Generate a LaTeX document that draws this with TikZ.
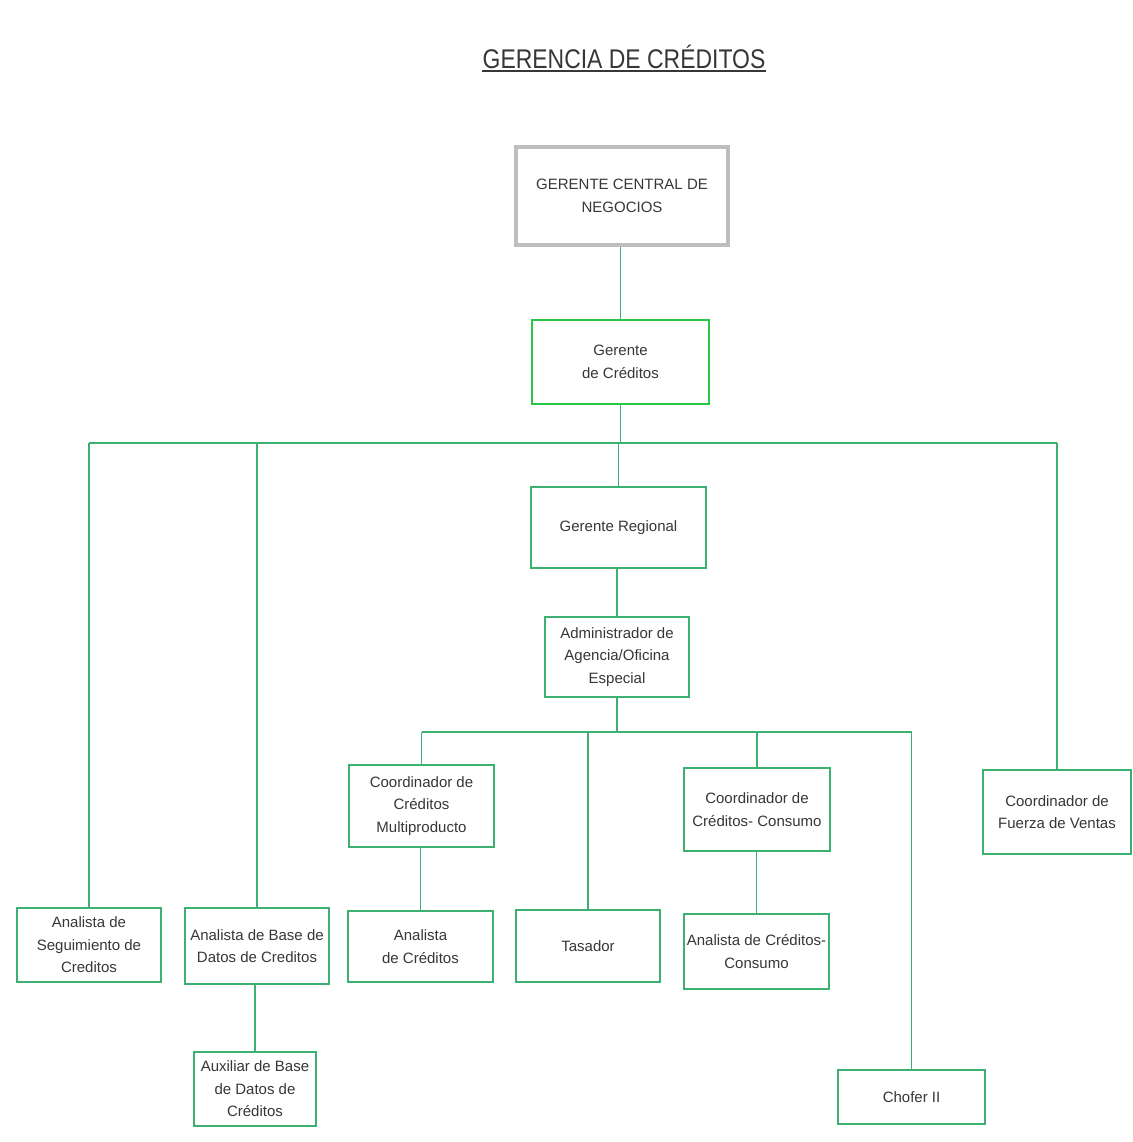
\documentclass[tikz,border=0pt]{standalone}
\usepackage{fontspec}
\setmainfont{Liberation Sans}
\definecolor{lg}{RGB}{60,176,112}
\definecolor{bgr}{RGB}{40,200,70}
\definecolor{tx}{RGB}{55,55,55}
\definecolor{gb}{RGB}{190,190,190}
\begin{document}
\begin{tikzpicture}[x=1pt,y=-1pt,
 box/.style={draw=lg, line width=1.4pt, align=center, inner sep=0pt, text=tx, font=\fontsize{15}{22.5}\selectfont},
 conn/.style={draw=lg, line width=1.4pt}]
\useasboundingbox (0,0) rectangle (1132,1142);
\fill[white] (0,0) rectangle (1132,1142);
\node[text=tx, inner sep=0pt, font=\fontsize{27}{30}\selectfont] (title) at (624,57) {\scalebox{0.85}[1]{GERENCIA DE CRÉDITOS}};
\draw[tx, line width=1.8pt] (title.south west |- 0,71) -- (title.south east |- 0,71);

\node[box, draw=gb, line width=3.5pt, minimum width=212pt, minimum height=98pt] (gcn) at (622,196) {GERENTE CENTRAL DE\\NEGOCIOS};
\node[box, draw=bgr, line width=2.8pt, minimum width=177pt, minimum height=84pt] (gc) at (620.5,362) {Gerente\\de Créditos};
\node[box, minimum width=175pt, minimum height=81pt] (gr) at (618.5,527.5) {Gerente Regional};
\node[box, minimum width=144pt, minimum height=80pt] (adm) at (617,657) {Administrador de\\Agencia/Oficina\\Especial};
\node[box, minimum width=145pt, minimum height=82pt] (cm) at (421.5,806) {Coordinador de\\Créditos\\Multiproducto};
\node[box, minimum width=145pt, minimum height=71pt] (ac) at (420.5,946.5) {Analista\\de Créditos};
\node[box, minimum width=144pt, minimum height=72pt] (tas) at (588,946) {Tasador};
\node[box, minimum width=146pt, minimum height=83pt] (cc) at (757,809.5) {Coordinador de\\Créditos- Consumo};
\node[box, minimum width=145pt, minimum height=75pt] (acc) at (756.5,951.5) {Analista de Créditos-\\Consumo};
\node[box, minimum width=147pt, minimum height=54pt] (ch) at (911.5,1097) {Chofer II};
\node[box, minimum width=148pt, minimum height=84pt] (cfv) at (1057,812) {Coordinador de\\Fuerza de Ventas};
\node[box, minimum width=144pt, minimum height=74pt] (as) at (89,945) {Analista de\\Seguimiento de\\Creditos};
\node[box, minimum width=144pt, minimum height=76pt] (abd) at (257,946) {Analista de Base de\\Datos de Creditos};
\node[box, minimum width=122pt, minimum height=74pt] (aux) at (255,1089) {Auxiliar de Base\\de Datos de\\Créditos};

\coordinate (bus1) at (621,443);
\coordinate (bus2) at (617,732);
\draw[conn] (gc.north) -- (gc.north |- gcn.south);
\draw[conn] (gc.south) -- (gc.south |- bus1);
\draw[conn] (as.north |- bus1) -- (cfv.north |- bus1);
\draw[conn] (as.north |- bus1) -- (as.north);
\draw[conn] (abd.north |- bus1) -- (abd.north);
\draw[conn] (gr.north |- bus1) -- (gr.north);
\draw[conn] (cfv.north |- bus1) -- (cfv.north);
\draw[conn] (adm.north) -- (adm.north |- gr.south);
\draw[conn] (adm.south) -- (adm.south |- bus2);
\draw[conn] (cm.north |- bus2) -- (ch.north |- bus2);
\draw[conn] (cm.north |- bus2) -- (cm.north);
\draw[conn] (tas.north |- bus2) -- (tas.north);
\draw[conn] (cc.north |- bus2) -- (cc.north);
\draw[conn] (ch.north |- bus2) -- (ch.north);
\draw[conn] (ac.north) -- (ac.north |- cm.south);
\draw[conn] (acc.north) -- (acc.north |- cc.south);
\draw[conn] (aux.north) -- (aux.north |- abd.south);
\end{tikzpicture}
\end{document}
